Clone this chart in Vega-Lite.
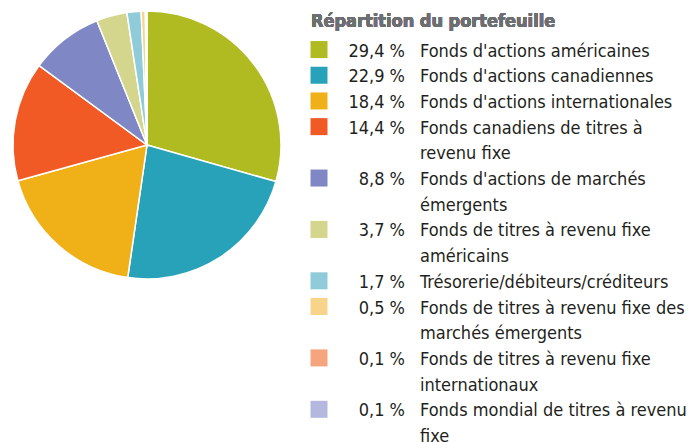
{
  "$schema": "https://vega.github.io/schema/vega-lite/v6.json",
  "padding": {"left": 10, "top": 8, "right": 0, "bottom": 0},
  "spacing": 26,
  "background": "white",
  "config": {"view": {"stroke": null}, "font": "DejaVu Sans Condensed, Roboto, sans-serif"},
  "data": {
    "values": [
      {"label": "Fonds d'actions américaines", "value": 29.4},
      {"label": "Fonds d'actions canadiennes", "value": 22.9},
      {"label": "Fonds d'actions internationales", "value": 18.4},
      {"label": "Fonds canadiens de titres à\nrevenu fixe", "value": 14.4},
      {"label": "Fonds d'actions de marchés\némergents", "value": 8.8},
      {"label": "Fonds de titres à revenu fixe\naméricains", "value": 3.7},
      {"label": "Trésorerie/débiteurs/créditeurs", "value": 1.7},
      {"label": "Fonds de titres à revenu fixe des\nmarchés émergents", "value": 0.5},
      {"label": "Fonds de titres à revenu fixe\ninternationaux", "value": 0.1},
      {"label": "Fonds mondial de titres à revenu\nfixe", "value": 0.1}
    ]
  },
  "transform": [
    {"calculate": "length(split(datum.label, '\\n'))", "as": "nlines"},
    {"window": [{"op": "sum", "field": "nlines", "as": "cum"}], "frame": [null, 0]},
    {"calculate": "datum.cum - datum.nlines", "as": "line"},
    {"calculate": "replace(format(datum.value, '.1f'), '.', ',') + ' %'", "as": "pct"}
  ],
  "resolve": {"scale": {"color": "shared"}},
  "hconcat": [
    {
      "width": 268,
      "height": 268,
      "mark": {"type": "arc", "radius": 134, "stroke": "white", "strokeWidth": 1.5},
      "encoding": {
        "theta": {"field": "value", "type": "quantitative", "stack": true},
        "order": {"field": "line", "type": "quantitative", "sort": "ascending"},
        "color": {
          "field": "label",
          "type": "nominal",
          "legend": null,
          "scale": {
            "domain": [
              "Fonds d'actions américaines",
              "Fonds d'actions canadiennes",
              "Fonds d'actions internationales",
              "Fonds canadiens de titres à\nrevenu fixe",
              "Fonds d'actions de marchés\némergents",
              "Fonds de titres à revenu fixe\naméricains",
              "Trésorerie/débiteurs/créditeurs",
              "Fonds de titres à revenu fixe des\nmarchés émergents",
              "Fonds de titres à revenu fixe\ninternationaux",
              "Fonds mondial de titres à revenu\nfixe"
            ],
            "range": ["#afbb21", "#27a2b9", "#f0b118", "#f15a25", "#7f88c4", "#d3d68c", "#8fcbd9", "#f8d48b", "#f6a47e", "#b4b7de"]
          }
        }
      }
    },
    {
      "width": 380,
      "height": 424,
      "encoding": {
        "y": {"field": "line", "type": "quantitative", "axis": null, "scale": {"domain": [-1.5, 15], "reverse": true}}
      },
      "layer": [
        {
          "mark": {"type": "text", "x": 0, "align": "left", "baseline": "top", "dy": 2, "fontSize": 18, "fontWeight": "bold", "color": "#6d6e71"},
          "encoding": {
            "y": {"datum": -1.5, "type": "quantitative"},
            "text": {"value": "Répartition du portefeuille"}
          }
        },
        {
          "mark": {"type": "square", "x": 8, "size": 289, "opacity": 1, "strokeWidth": 0},
          "encoding": {
            "color": {"field": "label", "type": "nominal", "legend": null}
          }
        },
        {
          "mark": {"type": "text", "x": 94, "align": "right", "baseline": "alphabetic", "dy": 7, "fontSize": 18, "color": "#231f20"},
          "encoding": {"text": {"field": "pct"}}
        },
        {
          "mark": {"type": "text", "x": 109, "align": "left", "baseline": "alphabetic", "dy": 7, "fontSize": 18, "lineBreak": "\n", "lineHeight": 25.7, "color": "#231f20"},
          "encoding": {"text": {"field": "label"}}
        }
      ]
    }
  ]
}
